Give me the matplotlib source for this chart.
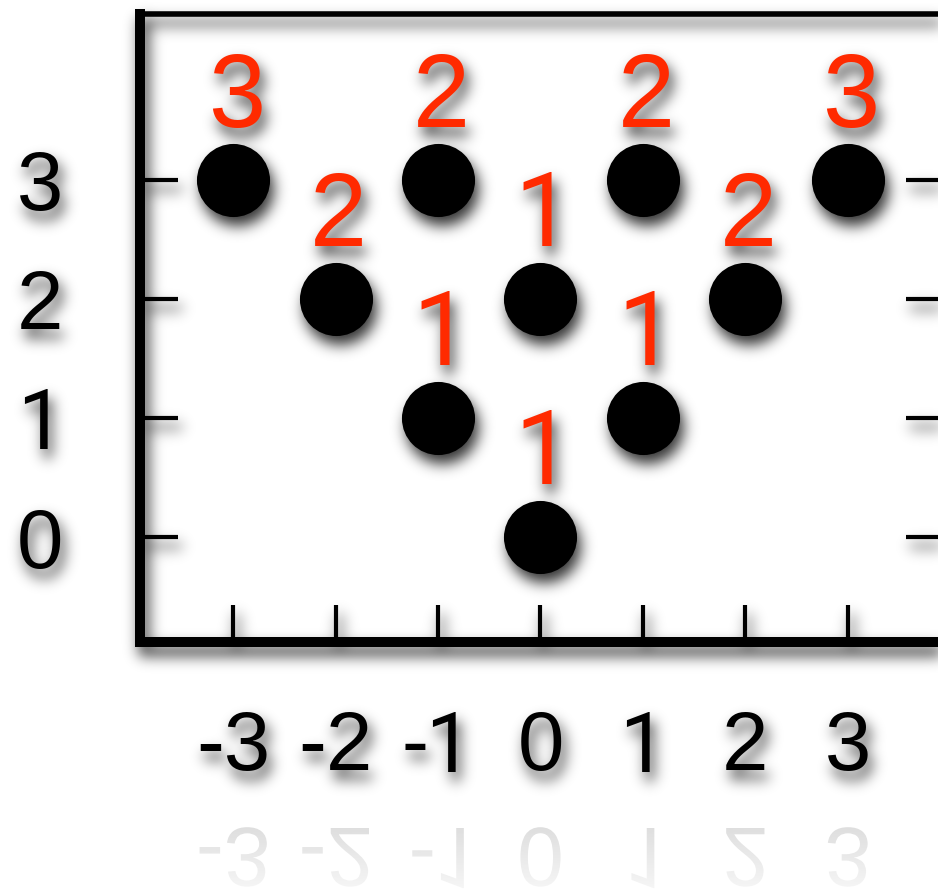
import matplotlib
matplotlib.use("Agg")
import matplotlib.pyplot as plt
import numpy as np
from matplotlib import font_manager
from matplotlib.font_manager import FontProperties
from matplotlib.patches import PathPatch
from matplotlib.path import Path
from matplotlib.textpath import TextPath
from matplotlib.transforms import Affine2D

# dots and the count written above each one
X_VALS = [-3, -2, -1, -1, 0, 0, 1, 1, 2, 3]
Y_VALS = [3, 2, 3, 1, 2, 0, 3, 1, 2, 3]
COUNTS = [3, 2, 2, 1, 1, 1, 2, 1, 2, 3]
X_TICKS = [-3, -2, -1, 0, 1, 2, 3]
Y_TICKS = [0, 1, 2, 3]

RED = "#ff2a00"
FONT = "Liberation Sans"
FONT_ONE = "Roboto"   # Liberation's "1" has a foot, the reference's doesn't
for fam in (FONT, FONT_ONE):
    font_manager.findfont(FontProperties(family=fam), fallback_to_default=False)
plt.rcParams["font.family"] = FONT
plt.rcParams["axes.unicode_minus"] = False


def family_for(s):
    return FONT_ONE if "1" in s else FONT


def gauss_blur(a, sigma):
    r = max(1, int(3 * sigma))
    k = np.exp(-0.5 * (np.arange(-r, r + 1) / sigma) ** 2)
    k /= k.sum()
    p = np.pad(a, r)
    h = sum(w * p[:, i:i + a.shape[1]] for i, w in enumerate(k))
    return sum(w * h[i:i + a.shape[0], :] for i, w in enumerate(k))


def drop_shadow(im, dpi, dx=4, dy=9, sigma=7.0, strength=0.8, pad=40):
    # agg filter: blurred black copy of the alpha, offset down-right, under the art
    src = np.pad(im, [(pad, pad), (pad, pad), (0, 0)])
    a = src[..., 3]
    sh = np.roll(np.roll(a, dx, axis=1), dy, axis=0)
    sh = gauss_blur(sh, sigma) * strength
    out_a = a + sh * (1 - a)
    rgb = src[..., :3] * a[..., None] / np.maximum(out_a, 1e-6)[..., None]
    return np.dstack([rgb, out_a]), -pad, -pad


W, H, DPI = 938, 894, 100
fig = plt.figure(figsize=(W / DPI, H / DPI), dpi=DPI)
ax = fig.add_axes([140 / W, 1 - 642 / H, 803 / W, 627.5 / H])
ax.patch.set_visible(False)
ax.set_xlim(-3.91, 3.93)
ax.set_ylim(-0.882, 4.39)

ax.scatter(X_VALS, Y_VALS, s=2770, color="black", zorder=3, linewidths=0)

for x, y, c in zip(X_VALS, Y_VALS, COUNTS):
    ax.text(x + 0.03, y + 0.445, str(c), color=RED, fontsize=74,
            family=family_for(str(c)), ha="center", va="baseline", zorder=4)

for side, sp in ax.spines.items():
    sp.set_linewidth(4 if side == "top" else 7.2)
    sp.set_capstyle("projecting")

ax.set_xticks(X_TICKS, labels=[str(t) for t in X_TICKS])
ax.set_yticks(Y_TICKS, labels=[str(t) for t in Y_TICKS])
ax.tick_params(axis="both", direction="in", length=27, width=3, labelsize=60,
               colors="black")
ax.tick_params(axis="y", right=True, pad=55)
ax.tick_params(axis="x", pad=48)
for lab in ax.get_xticklabels() + ax.get_yticklabels():
    lab.set_fontfamily(family_for(lab.get_text()))
ax.set_agg_filter(drop_shadow)

# mirrored, faded copy of the x tick labels below the axis
paths = []
for xt in X_TICKS:
    s = str(xt)
    tp = TextPath((0, 0), s, size=84, prop=FontProperties(family=family_for(s)))
    ext = tp.get_extents()
    cx = ax.transData.transform((xt, 0))[0]
    tr = (Affine2D().translate(-(ext.x0 + ext.x1) / 2, 0)
          .scale(1, -1).translate(cx, 66))
    paths.append(tr.transform_path(tp))
clip = PathPatch(Path.make_compound_path(*paths), transform=None,
                 facecolor="none", edgecolor="none")
fig.add_artist(clip)
grad = np.linspace(0.97, 0.85, 256).reshape(-1, 1)
gax = fig.add_axes([0, 0, 1, 80 / H])
gax.set_axis_off()
gim = gax.imshow(grad, cmap="gray", vmin=0, vmax=1, aspect="auto",
                 extent=[0, 1, 0, 1], origin="lower")
gim.set_clip_path(clip)

fig.savefig("out.png", dpi=DPI)
